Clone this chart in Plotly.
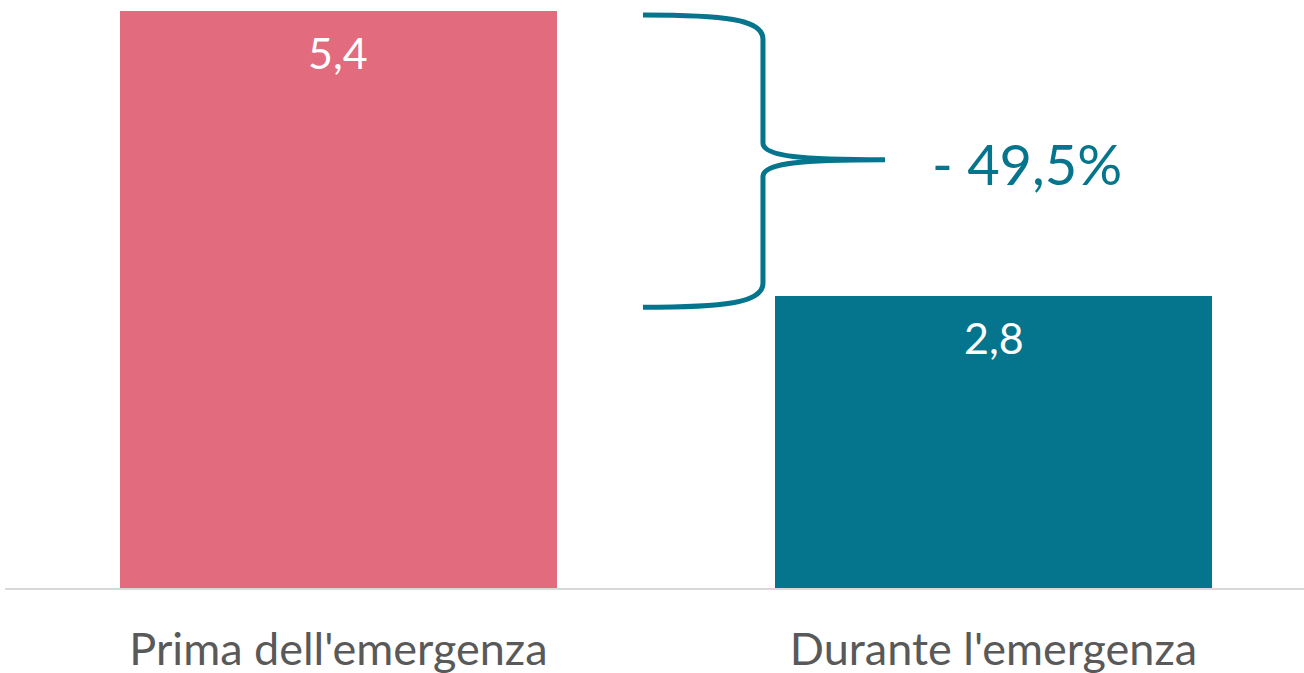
import plotly.graph_objects as go

categories = ["Prima dell'emergenza", "Durante l'emergenza"]
values = [5.44, 2.75]
value_labels = ["5,4", "2,8"]
change_label = "- 49,5%"
bar_colors = ["#E26B7D", "#04758D"]

FONT = "Lato, 'Open Sans', sans-serif"
xpos = [0, 1]

fig = go.Figure()
fig.add_trace(go.Bar(
    x=xpos, y=values, width=0.667,
    marker=dict(color=bar_colors, line=dict(width=0)),
    hoverinfo="skip",
))

# value labels just inside the top of each bar
for xp, v, lab in zip(xpos, values, value_labels):
    fig.add_annotation(x=xp, y=v, text=lab, showarrow=False, yanchor="top",
                       yshift=-14, font=dict(family=FONT, size=43, color="white"))

# curly brace between the two bar heights
hi, lo = values[0], values[1]
px = 1 / 655.0   # data units per pixel in x
py = 1 / 106.07  # data units per pixel in y
xl = 0.5 - 23 * px
xv = 0.5 + 97 * px
xt = 0.5 + 219 * px
ytop = hi - 4 * py
ybot = lo - 11 * py
ymid = (ytop + ybot) / 2 + 1.5 * py
r = 24 * py
path = (
    f"M {xl},{ytop} "
    f"C {xv - 40*px},{ytop} {xv},{ytop - 4*py} {xv},{ytop - r} "
    f"L {xv},{ymid + r*0.7} "
    f"C {xv},{ymid + 3*py} {xv + 40*px},{ymid} {xt},{ymid} "
    f"C {xv + 40*px},{ymid} {xv},{ymid - 3*py} {xv},{ymid - r*0.7} "
    f"L {xv},{ybot + r} "
    f"C {xv},{ybot + 4*py} {xv - 40*px},{ybot} {xl},{ybot}"
)
fig.add_shape(type="path", path=path, xref="x", yref="y",
              line=dict(color="#04758D", width=5), layer="above")

fig.add_annotation(x=xt + 45 * px, y=ymid, text=change_label, showarrow=False,
                   xanchor="left", yanchor="middle", yshift=-4,
                   font=dict(family=FONT, size=56, color="#04758D"))

fig.update_layout(
    width=1304, height=673,
    margin=dict(l=5, r=0, t=0, b=85, autoexpand=False),
    paper_bgcolor="white", plot_bgcolor="white",
    showlegend=False, bargap=0,
    xaxis=dict(range=[-0.509, 1.474], tickvals=xpos, ticktext=categories,
               showgrid=False, zeroline=False, showline=True,
               linecolor="#D9D9D9", linewidth=2, ticks="",
               automargin=False, ticklabelstandoff=21,
               tickfont=dict(family=FONT, size=45, color="#595959")),
    yaxis=dict(range=[0, 5.544], visible=False, showgrid=False, zeroline=False,
               automargin=False),
)

fig.write_html("out.html", config={"displayModeBar": False},
               post_script="document.body.style.margin='0';document.body.style.overflow='hidden';")
